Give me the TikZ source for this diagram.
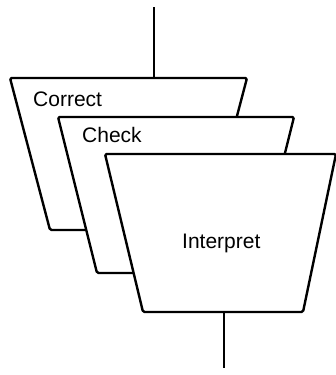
\documentclass[tikz,border=0pt]{standalone}
\usepackage{fontspec}
\setmainfont{Liberation Sans}
\begin{document}
\begin{tikzpicture}[x=1pt,y=-1pt,
  stagebox/.style={draw=black,fill=white,line width=2.4pt,rounded corners=1.5pt,line join=round},
  wire/.style={draw=black,line width=1.3pt},
  lbl/.style={font=\fontsize{21}{24}\selectfont,inner sep=0pt,anchor=base west}]
\useasboundingbox (0,0) rectangle (335,375);
% Correct
\draw[stagebox] (10,78) -- (247,78) -- (207,230) -- (50,230) -- cycle;
\coordinate (correcttop) at (154,78);
\node[lbl] (correct) at (33,106) {Correct};
% Check
\draw[stagebox] (58,117) -- (294,117) -- (255,273) -- (97,273) -- cycle;
\node[lbl] (check) at (82,142) {Check};
% Interpret
\draw[stagebox] (105,154) -- (336,154) -- (303,312) -- (143,312) -- cycle;
\coordinate (interpbot) at (224,312);
\node[lbl] (interpret) at (182,248) {Interpret};
% connectors
\coordinate (topend) at (154,7);
\coordinate (botend) at (224,368);
\draw[wire] (topend) -- (correcttop);
\draw[wire] (interpbot) -- (botend);
\end{tikzpicture}
\end{document}
